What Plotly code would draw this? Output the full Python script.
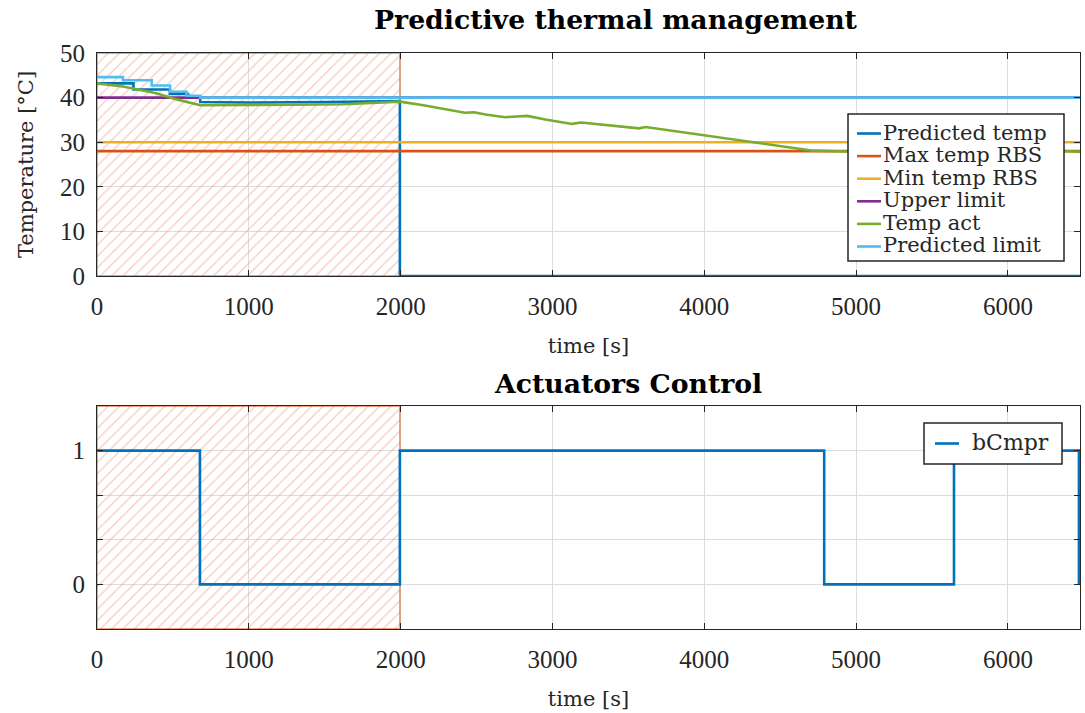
import plotly.graph_objects as go

# ---------------- data ----------------
T_END = 6475
hatch_x = [0, 1995]

pred_temp_t = [0, 240, 240, 480, 480, 600, 600, 680, 680, 1000, 1500, 1995, 1995, 6475]
pred_temp_v = [43.2, 43.2, 41.8, 41.8, 40.8, 40.8, 40.0, 40.0, 39.0, 38.9, 39.0, 39.2, 0, 0]

max_rbs_t = [0, 6475]
max_rbs_v = [28, 28]
min_rbs_t = [0, 6475]
min_rbs_v = [30, 30]
upper_t = [0, 6475]
upper_v = [40, 40]

temp_act_t = [0, 170, 390, 525, 680, 1000, 1300, 1620, 1850, 1996, 2150, 2300, 2423, 2482,
              2560, 2688, 2835, 2953, 3050, 3129, 3188, 3350, 3570, 3614, 3800, 3982, 4150,
              4305, 4500, 4717, 4937, 5300, 5700, 6100, 6300, 6475]
temp_act_v = [43.2, 42.5, 41.0, 39.6, 38.3, 38.3, 38.4, 38.5, 38.9, 39.1, 38.3, 37.3, 36.6, 36.7,
              36.2, 35.6, 35.9, 35.1, 34.6, 34.1, 34.4, 33.8, 33.1, 33.4, 32.5, 31.6, 30.8,
              30.0, 29.2, 28.1, 27.9, 27.9, 28.0, 28.0, 28.2, 27.8]

pred_lim_t = [0, 171, 171, 360, 360, 481, 481, 590, 590, 680, 680, 6475]
pred_lim_v = [44.6, 44.6, 43.9, 43.9, 42.7, 42.7, 41.3, 41.3, 40.4, 40.4, 40.0, 40.0]

bcmpr_t = [0, 678, 678, 1995, 1995, 4790, 4790, 5645, 5645, 6468, 6468]
bcmpr_v = [1, 1, 0, 0, 1, 1, 0, 0, 1, 1, 0]

y1_ticks = [0, 10, 20, 30, 40, 50]
x_ticks = [0, 1000, 2000, 3000, 4000, 5000, 6000]
y2_ticks = [0, 1/3, 2/3, 1]
y2_labels = ["0", "", "", "1"]

names_top = ["Predicted temp", "Max temp RBS", "Min temp RBS", "Upper limit", "Temp act", "Predicted limit"]
names_bot = ["bCmpr"]

# ---------------- styling ----------------
TICKFONT = "Liberation Serif"
TEXTFONT = "DejaVu Serif"
C = ["#0072BD", "#D95319", "#EDB120", "#7E2F8E", "#77AC30", "#4DBEEE"]
LW = 2.6
W, H = 1085, 713
ML, MR, MT, MB = 97, 5, 53, 84
PW, PH = W - ML - MR, H - MT - MB


def px_x(x):
    return (x - ML) / PW


def px_y(y):
    return 1 - (y - MT) / PH


fig = go.Figure()


def hatch(xref, yref, y0, y1):
    fig.add_trace(go.Scatter(
        x=[hatch_x[0], hatch_x[1], hatch_x[1], hatch_x[0], hatch_x[0]],
        y=[y0, y0, y1, y1, y0],
        xaxis=xref, yaxis=yref, mode="lines", fill="toself",
        fillcolor="rgba(0,0,0,0)",
        fillpattern=dict(shape="/", fgcolor="#EE9580", bgcolor="rgba(0,0,0,0)", size=8, solidity=0.16),
        line=dict(color="rgba(217,83,25,0.55)", width=1.8),
        showlegend=False, hoverinfo="skip"))


hatch("x", "y", 0, 50)
hatch("x2", "y2", -1/3, 4/3)

series = [
    (pred_temp_t, pred_temp_v),
    (max_rbs_t, max_rbs_v),
    (min_rbs_t, min_rbs_v),
    (upper_t, upper_v),
    (temp_act_t, temp_act_v),
    (pred_lim_t, pred_lim_v),
]
for (t, v), name, col in zip(series, names_top, C):
    fig.add_trace(go.Scatter(x=t, y=v, name=name, mode="lines", showlegend=False,
                             line=dict(color=col, width=LW), xaxis="x", yaxis="y"))

fig.add_trace(go.Scatter(x=bcmpr_t, y=bcmpr_v, name=names_bot[0], mode="lines", showlegend=False,
                         line=dict(color=C[0], width=LW), xaxis="x2", yaxis="y2"))

ax_common = dict(showline=True, linecolor="#262626", linewidth=1.2, mirror="ticks",
                 ticks="inside", ticklen=6, tickcolor="#262626", automargin=False,
                 showgrid=True, gridcolor="#DCDCDC", gridwidth=1, zeroline=False,
                 tickfont=dict(family=TICKFONT, size=25, color="#262626"))
title_font = dict(family=TEXTFONT, size=21, color="#262626")

shapes = []
annotations = [
    dict(text="<b>Predictive thermal management</b>", x=px_x(616), y=px_y(20),
         xref="paper", yref="paper", showarrow=False, xanchor="center", yanchor="middle",
         font=dict(family=TEXTFONT, size=26.7, color="black")),
    dict(text="<b>Actuators Control</b>", x=px_x(628), y=px_y(383),
         xref="paper", yref="paper", showarrow=False, xanchor="center", yanchor="middle",
         font=dict(family=TEXTFONT, size=26.7, color="black")),
]


def legend_box(x0, y0, x1, y1, names, colors, first_y, step, lx0, lx1, tx, fs):
    shapes.append(dict(type="rect", xref="paper", yref="paper",
                       x0=px_x(x0), x1=px_x(x1), y0=px_y(y0), y1=px_y(y1),
                       fillcolor="white", line=dict(color="#262626", width=1.5), layer="above"))
    for i, (nm, col) in enumerate(zip(names, colors)):
        yy = first_y + i * step
        shapes.append(dict(type="line", xref="paper", yref="paper",
                           x0=px_x(lx0), x1=px_x(lx1), y0=px_y(yy), y1=px_y(yy),
                           line=dict(color=col, width=LW), layer="above"))
        annotations.append(dict(text=nm, x=px_x(tx), y=px_y(yy - 1), xref="paper", yref="paper",
                                showarrow=False, xanchor="left", yanchor="middle",
                                font=dict(family=TEXTFONT, size=fs, color="#262626")))


legend_box(848, 114, 1064, 261, names_top, C, 133.5, 22.6, 857, 881, 881, 21)
legend_box(924, 423, 1062, 464, names_bot, [C[0]], 443.5, 0, 935, 959, 970, 22)

fig.update_layout(
    width=W, height=H, margin=dict(l=ML, r=MR, t=MT, b=MB, autoexpand=False),
    paper_bgcolor="white", plot_bgcolor="white",
    font=dict(family=TEXTFONT, color="#262626"),
    showlegend=False,
    xaxis=dict(domain=[0, 1], anchor="y", range=[0, T_END], tickvals=x_ticks, ticklabelstandoff=8,
               title=dict(text="time [s]", font=title_font, standoff=19), **ax_common),
    yaxis=dict(domain=[px_y(276), 1], anchor="x", range=[0, 50], tickvals=y1_ticks, ticklabelstandoff=6,
               title=dict(text="Temperature [°C]", font=title_font, standoff=20), **ax_common),
    xaxis2=dict(domain=[0, 1], anchor="y2", range=[0, T_END], tickvals=x_ticks, ticklabelstandoff=8,
                title=dict(text="time [s]", font=title_font, standoff=19), **ax_common),
    yaxis2=dict(domain=[0, px_y(406)], anchor="x2", range=[-1/3, 4/3], ticklabelstandoff=6,
                tickvals=y2_ticks, ticktext=y2_labels, **ax_common),
    shapes=shapes,
    annotations=annotations,
)

fig.write_html("out.html")
